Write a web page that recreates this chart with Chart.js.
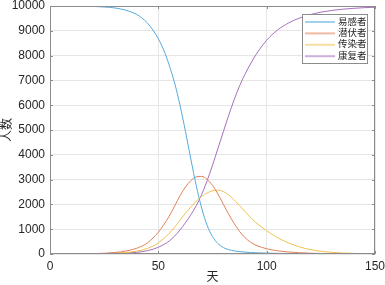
<!DOCTYPE html>
<html lang="zh">
<head>
  <meta charset="UTF-8" />
  <title>SEIR 模型</title>
  <script src="https://cdn.jsdelivr.net/npm/chart.js"></script>
  <style>
    body { margin: 0; background: #fff; }
    canvas { display: block; }
  </style>
</head>
<body>
<canvas id="chart" width="385" height="285"></canvas>

<script>
// 时间点 (天)
const days = [0, 5, 10, 15, 20, 25, 30, 35, 40, 42.5, 45, 47.5, 50, 52.5, 55, 57.5, 60, 62.5, 65, 67.5,
  70, 72.5, 75, 77.5, 80, 82.5, 85, 87.5, 90, 92.5, 95, 100, 105, 110, 115, 120, 125, 130, 135, 140, 145, 150];

// 各类人数
const susceptible = [10000, 10000, 9998, 9993, 9982, 9960, 9920, 9830, 9660, 9510, 9310, 9030, 8680, 8220, 7620, 6900,
  6000, 4950, 3830, 2760, 1850, 1160, 700, 420, 260, 175, 125, 95, 75, 60, 50, 35, 26, 19, 14, 11, 9, 8, 7, 6, 6, 5];
const exposed = [0, 1, 3, 7, 15, 30, 60, 120, 230, 320, 450, 640, 880, 1180, 1520, 1930,
  2350, 2700, 2960, 3110, 3130, 3010, 2770, 2420, 2010, 1600, 1230, 910, 660, 480, 355, 210, 130, 82, 52, 33, 21, 13, 8, 5, 3, 2];
const infected = [1, 1, 2, 4, 8, 16, 32, 62, 115, 160, 225, 320, 450, 620, 830, 1080,
  1360, 1640, 1900, 2130, 2320, 2460, 2550, 2580, 2520, 2380, 2180, 1950, 1710, 1480, 1270, 940, 660, 450, 290, 180, 110, 66, 40, 24, 15, 9];
const recovered = [0, 0, 1, 2, 4, 9, 18, 35, 65, 95, 135, 190, 270, 380, 520, 720,
  970, 1260, 1580, 1950, 2400, 2950, 3580, 4250, 4930, 5600, 6220, 6780, 7250, 7660, 8030, 8620, 9030, 9310, 9510, 9650, 9750, 9820, 9870, 9905, 9932, 9950];

const labels = ['易感者', '潜伏者', '传染者', '康复者'];
const colors = ['#55a9de', '#e3805a', '#efc251', '#a76fbd'];
const series = [susceptible, exposed, infected, recovered];

const FONT = "'Liberation Sans', Arial, 'Noto Sans CJK SC', sans-serif";
const TEXT = '#262626';

function toPoints(vals) {
  return vals.map((v, i) => ({ x: days[i], y: v }));
}

// 坐标框、内侧刻度和图例
const matlabBox = {
  id: 'matlabBox',
  afterDatasetsDraw(chart) {
    const { ctx, chartArea: a, scales } = chart;
    ctx.save();
    ctx.strokeStyle = '#8c8c8c';
    ctx.lineWidth = 1;
    ctx.strokeRect(a.left + 0.5, a.top + 0.5, a.right - a.left - 1, a.bottom - a.top - 1);

    const tl = 3;
    ctx.beginPath();
    scales.x.ticks.forEach(t => {
      const px = Math.round(scales.x.getPixelForValue(t.value)) + 0.5;
      ctx.moveTo(px, a.bottom); ctx.lineTo(px, a.bottom - tl);
      ctx.moveTo(px, a.top); ctx.lineTo(px, a.top + tl);
    });
    scales.y.ticks.forEach(t => {
      const py = Math.round(scales.y.getPixelForValue(t.value)) + 0.5;
      ctx.moveTo(a.left, py); ctx.lineTo(a.left + tl, py);
      ctx.moveTo(a.right, py); ctx.lineTo(a.right - tl, py);
    });
    ctx.stroke();

    // 图例
    const lx = 302, ly = 14, lw = 65, lh = 49;
    ctx.fillStyle = '#fff';
    ctx.fillRect(lx, ly, lw, lh);
    ctx.strokeStyle = '#8c8c8c';
    ctx.strokeRect(lx + 0.5, ly + 0.5, lw, lh);
    ctx.font = '9.5px ' + FONT;
    ctx.textBaseline = 'middle';
    labels.forEach((lab, i) => {
      const y = ly + 8 + i * 11.4;
      ctx.globalAlpha = 0.55;
      ctx.strokeStyle = colors[i];
      ctx.lineWidth = 2;
      ctx.beginPath();
      ctx.moveTo(lx + 3, y); ctx.lineTo(lx + 33, y);
      ctx.stroke();
      ctx.globalAlpha = 1;
      ctx.fillStyle = TEXT;
      ctx.fillText(lab, lx + 36, y);
    });
    ctx.restore();
  }
};

new Chart(document.getElementById('chart'), {
  type: 'line',
  data: {
    datasets: series.map((vals, i) => ({
      label: labels[i],
      data: toPoints(vals),
      borderColor: colors[i],
      borderWidth: 1,
      pointRadius: 0,
      fill: false,
      cubicInterpolationMode: 'monotone'
    }))
  },
  options: {
    responsive: false,
    animation: false,
    devicePixelRatio: 1,
    layout: { padding: { top: 6, right: 10, left: 0, bottom: 0 } },
    plugins: { legend: { display: false }, tooltip: { enabled: false } },
    scales: {
      x: {
        type: 'linear',
        min: 0, max: 150,
        ticks: { stepSize: 50, color: TEXT, font: { family: FONT, size: 12 }, padding: 5, maxRotation: 0,
          callback: v => String(v) },
        grid: { color: '#e6e6e6', drawTicks: false },
        border: { display: false },
        title: { display: true, text: '天', color: TEXT, font: { family: FONT, size: 12 }, padding: { top: 1, bottom: 0 } },
        afterFit(scale) { scale.height = 31; scale.paddingLeft = 0; scale.paddingRight = 0; }
      },
      y: {
        min: 0, max: 10000,
        ticks: { stepSize: 1000, color: TEXT, font: { family: FONT, size: 12 }, padding: 5,
          callback: v => String(v) },
        grid: { color: '#e6e6e6', drawTicks: false },
        border: { display: false },
        title: { display: true, text: '人数', color: TEXT, font: { family: FONT, size: 12 }, padding: 0 },
        afterFit(scale) { scale.width = 50; scale.paddingTop = 0; scale.paddingBottom = 0; }
      }
    }
  },
  plugins: [matlabBox]
});
</script>
</body>
</html>
